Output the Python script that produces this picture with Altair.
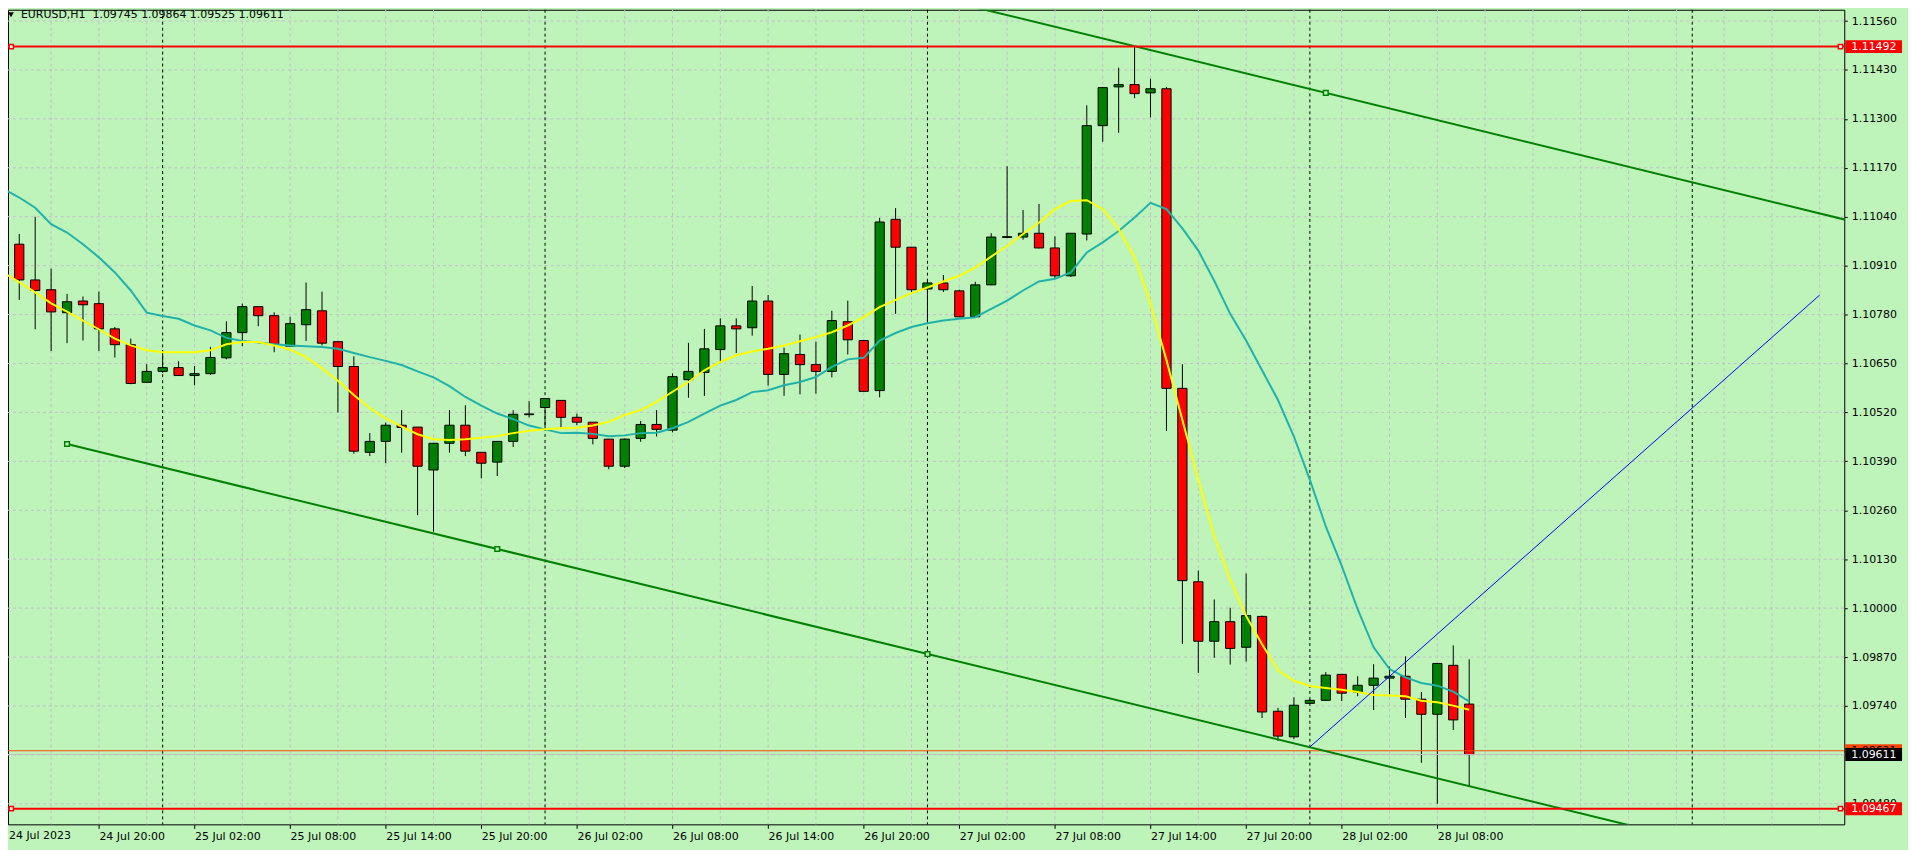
import altair as alt
import pandas as pd

# ---------------- data (EURUSD H1, bar 0 = 24 Jul 2023 14:00) ----------------
opens = [1.10912, 1.10967, 1.10872, 1.10846, 1.10785, 1.10816, 1.10809, 1.10742, 1.10700, 1.10600,
         1.10629, 1.10639, 1.10618, 1.10623, 1.10665, 1.10732, 1.10801, 1.10777, 1.10696, 1.10753,
         1.10790, 1.10708, 1.10642, 1.10414, 1.10443, 1.10486, 1.10481, 1.10367, 1.10438, 1.10486,
         1.10414, 1.10388, 1.10443, 1.10514, 1.10533, 1.10552, 1.10507, 1.10494, 1.10449, 1.10377,
         1.10451, 1.10488, 1.10473, 1.10607, 1.10626, 1.10687, 1.10750, 1.10745, 1.10816, 1.10621,
         1.10674, 1.10647, 1.10629, 1.10761, 1.10711, 1.10578, 1.11033, 1.10959, 1.10848, 1.10864,
         1.10843, 1.10774, 1.10859, 1.10985, 1.10986, 1.10996, 1.10957, 1.10883, 1.10994, 1.11282,
         1.11385, 1.11391, 1.11369, 1.11380, 1.10584, 1.10070, 1.09912, 1.09964, 1.09896, 1.09978,
         1.09726, 1.09658, 1.09747, 1.09755, 1.09824, 1.09777, 1.09795, 1.09814, 1.09819, 1.09758,
         1.09718, 1.09848, 1.09745]
highs = [1.11084, 1.10994, 1.11040, 1.10902, 1.10835, 1.10828, 1.10841, 1.10747, 1.10716, 1.10648,
         1.10685, 1.10656, 1.10643, 1.10694, 1.10762, 1.10809, 1.10801, 1.10786, 1.10774, 1.10865,
         1.10841, 1.10708, 1.10669, 1.10465, 1.10493, 1.10526, 1.10481, 1.10438, 1.10526, 1.10539,
         1.10414, 1.10443, 1.10526, 1.10550, 1.10557, 1.10552, 1.10517, 1.10494, 1.10449, 1.10451,
         1.10497, 1.10526, 1.10624, 1.10705, 1.10742, 1.10770, 1.10770, 1.10856, 1.10832, 1.10692,
         1.10727, 1.10708, 1.10790, 1.10817, 1.10711, 1.11037, 1.11063, 1.10959, 1.10870, 1.10885,
         1.10846, 1.10867, 1.10996, 1.11174, 1.11058, 1.11074, 1.10988, 1.10996, 1.11336, 1.11385,
         1.11436, 1.11492, 1.11407, 1.11385, 1.10648, 1.10100, 1.10023, 1.10001, 1.10092, 1.09980,
         1.09735, 1.09763, 1.09758, 1.09830, 1.09824, 1.09819, 1.09851, 1.09845, 1.09872, 1.09777,
         1.09853, 1.09901, 1.09864]
lows = [1.10870, 1.10819, 1.10741, 1.10683, 1.10704, 1.10711, 1.10683, 1.10666, 1.10595, 1.10598,
        1.10625, 1.10617, 1.10592, 1.10620, 1.10661, 1.10696, 1.10749, 1.10680, 1.10695, 1.10710,
        1.10698, 1.10520, 1.10410, 1.10404, 1.10385, 1.10413, 1.10247, 1.10203, 1.10413, 1.10404,
        1.10345, 1.10351, 1.10428, 1.10507, 1.10478, 1.10480, 1.10486, 1.10435, 1.10369, 1.10372,
        1.10442, 1.10456, 1.10467, 1.10559, 1.10564, 1.10654, 1.10678, 1.10724, 1.10591, 1.10564,
        1.10568, 1.10570, 1.10613, 1.10674, 1.10576, 1.10560, 1.10782, 1.10840, 1.10760, 1.10840,
        1.10773, 1.10771, 1.10858, 1.10984, 1.10979, 1.10956, 1.10877, 1.10880, 1.10977, 1.11239,
        1.11263, 1.11355, 1.11304, 1.10471, 1.09905, 1.09828, 1.09868, 1.09850, 1.09858, 1.09708,
        1.09647, 1.09652, 1.09745, 1.09754, 1.09753, 1.09766, 1.09729, 1.09771, 1.09708, 1.09589,
        1.09480, 1.09676, 1.09525]
closes = [1.10967, 1.10872, 1.10844, 1.10787, 1.10814, 1.10806, 1.10742, 1.10700, 1.10597, 1.10629,
          1.10639, 1.10618, 1.10623, 1.10666, 1.10732, 1.10801, 1.10777, 1.10701, 1.10756, 1.10793,
          1.10704, 1.10642, 1.10417, 1.10443, 1.10486, 1.10480, 1.10377, 1.10438, 1.10486, 1.10417,
          1.10385, 1.10443, 1.10515, 1.10516, 1.10557, 1.10507, 1.10494, 1.10451, 1.10377, 1.10449,
          1.10488, 1.10475, 1.10615, 1.10629, 1.10689, 1.10750, 1.10742, 1.10816, 1.10621, 1.10676,
          1.10647, 1.10629, 1.10764, 1.10713, 1.10576, 1.11026, 1.10959, 1.10846, 1.10864, 1.10846,
          1.10774, 1.10859, 1.10986, 1.10987, 1.10996, 1.10957, 1.10883, 1.10996, 1.11282, 1.11383,
          1.11391, 1.11367, 1.11380, 1.10584, 1.10073, 1.09912, 1.09964, 1.09893, 1.09980, 1.09724,
          1.09660, 1.09742, 1.09755, 1.09822, 1.09774, 1.09795, 1.09814, 1.09819, 1.09758, 1.09718,
          1.09853, 1.09703, 1.09611]
ma_fast = [1.10892, 1.10866, 1.10839, 1.10810, 1.10788, 1.10764, 1.10741, 1.10716, 1.10698, 1.10685,
           1.10680, 1.10680, 1.10680, 1.10685, 1.10701, 1.10707, 1.10707, 1.10698, 1.10687, 1.10667,
           1.10637, 1.10604, 1.10566, 1.10531, 1.10504, 1.10482, 1.10462, 1.10449, 1.10447, 1.10449,
           1.10453, 1.10457, 1.10465, 1.10471, 1.10475, 1.10478, 1.10479, 1.10485, 1.10495, 1.10513,
           1.10526, 1.10548, 1.10575, 1.10601, 1.10632, 1.10654, 1.10672, 1.10682, 1.10689, 1.10698,
           1.10709, 1.10720, 1.10733, 1.10751, 1.10773, 1.10800, 1.10819, 1.10837, 1.10852, 1.10868,
           1.10883, 1.10905, 1.10934, 1.10963, 1.10994, 1.11024, 1.11060, 1.11082, 1.11084, 1.11060,
           1.11007, 1.10932, 1.10809, 1.10659, 1.10500, 1.10341, 1.10191, 1.10076, 1.09979, 1.09904,
           1.09834, 1.09807, 1.09793, 1.09788, 1.09783, 1.09777, 1.09769, 1.09768, 1.09766, 1.09754,
           1.09750, 1.09741, 1.09730]
ma_slow = [1.11114, 1.11091, 1.11064, 1.11020, 1.10998, 1.10967, 1.10932, 1.10892, 1.10844, 1.10785,
           1.10776, 1.10769, 1.10751, 1.10738, 1.10718, 1.10710, 1.10706, 1.10701, 1.10698, 1.10696,
           1.10694, 1.10689, 1.10678, 1.10667, 1.10657, 1.10646, 1.10629, 1.10613, 1.10590, 1.10561,
           1.10538, 1.10517, 1.10502, 1.10485, 1.10475, 1.10465, 1.10466, 1.10463, 1.10457, 1.10459,
           1.10465, 1.10466, 1.10478, 1.10495, 1.10517, 1.10538, 1.10553, 1.10574, 1.10579, 1.10592,
           1.10601, 1.10614, 1.10641, 1.10661, 1.10665, 1.10711, 1.10731, 1.10747, 1.10757, 1.10764,
           1.10769, 1.10773, 1.10795, 1.10817, 1.10844, 1.10868, 1.10875, 1.10892, 1.10945, 1.10972,
           1.11002, 1.11038, 1.11077, 1.11060, 1.11009, 1.10950, 1.10870, 1.10782, 1.10711, 1.10632,
           1.10553, 1.10456, 1.10341, 1.10217, 1.10112, 1.09997, 1.09896, 1.09838, 1.09816, 1.09801,
           1.09794, 1.09778, 1.09752]

x_label_pos = [0, 6, 12, 18, 24, 30, 36, 42, 48, 54, 60, 66, 72, 78, 84, 90]
x_labels = ["24 Jul 2023", "24 Jul 20:00", "25 Jul 02:00", "25 Jul 08:00", "25 Jul 14:00",
            "25 Jul 20:00", "26 Jul 02:00", "26 Jul 08:00", "26 Jul 14:00", "26 Jul 20:00",
            "27 Jul 02:00", "27 Jul 08:00", "27 Jul 14:00", "27 Jul 20:00", "28 Jul 02:00",
            "28 Jul 08:00"]
y_ticks = [1.09480, 1.09610, 1.09740, 1.09870, 1.10000, 1.10130, 1.10260, 1.10390, 1.10520,
           1.10650, 1.10780, 1.10910, 1.11040, 1.11170, 1.11300, 1.11430, 1.11560]
grid_x = [3, 6, 9, 12, 15, 18, 21, 24, 27, 30, 33, 36, 39, 42, 45, 48, 51, 54, 57, 60, 63, 66,
          69, 72, 75, 78, 81, 84, 87, 90, 93, 96, 99, 102, 105, 108, 111, 114]
day_sep = [10, 34, 58, 82, 106]

chan_i = [4, 116, 4, 116]
chan_p = [1.12185, 1.11028, 1.10436, 1.09279]
chan_g = ["upper", "upper", "lower", "lower"]
chan_pts_i = [4, 31, 58, 83]
chan_pts_p = [1.10436, 1.10157, 1.09878, 1.11369]
blue_i = [82, 114]
blue_p = [1.09631, 1.10832]
red_levels = [1.11492, 1.09467]
ask_price = 1.09621
bid_price = closes[-1]
symbol = "EURUSD,H1"

# ---------------- layout / style ----------------
BG = "#BEF4BA"
GRID = "#C5BECC"
FONT = "DejaVu Sans"
FS = 11
W, H = 1844, 818
X0, X1 = 0.294, 115.54
Y0, Y1 = 1.094255, 1.115899
HALF = 6.5 * (Y1 - Y0) / H

xs = alt.Scale(domain=[X0, X1], nice=False, zero=False)
ys = alt.Scale(domain=[Y0, Y1], nice=False, zero=False)

label_expr = "[" + ",".join(f"'{s}'" for s in x_labels) + "][round(datum.value/6)]"
x_axis = alt.Axis(values=x_label_pos[1:], labelExpr=label_expr, orient="bottom", grid=False,
                  domain=False, ticks=True, tickSize=4, tickColor="black", labelColor="black",
                  labelFont=FONT, labelFontSize=FS, labelAlign="left", labelBaseline="top",
                  labelPadding=2, labelOverlap=False, labelFlush=False, title=None)
y_axis = alt.Axis(values=y_ticks, format=".5f", orient="right", grid=False, domain=False,
                  ticks=True, tickSize=3, tickColor="black", labelColor="black", labelFont=FONT,
                  labelFontSize=FS, labelAlign="left", labelBaseline="middle", labelPadding=4,
                  labelOverlap=False, labelFlush=False, title=None)


def X(f="i"):
    return alt.X(f"{f}:Q", scale=xs, axis=x_axis)


def Y(f="p"):
    return alt.Y(f"{f}:Q", scale=ys, axis=y_axis)


n = len(opens)
candles = pd.DataFrame({"i": list(range(n)), "o": opens, "h": highs, "l": lows, "c": closes})
candles["dir"] = ["up" if c >= o else "down" for o, c in zip(opens, closes)]
candles["xl"] = candles["i"] - 0.29
candles["xr"] = candles["i"] + 0.29
ma = pd.DataFrame({"i": list(range(n)), "fast": ma_fast, "slow": ma_slow})

grid_v = alt.Chart(pd.DataFrame({"i": grid_x})).mark_rule(
    color=GRID, strokeDash=[3, 3], strokeWidth=1).encode(x=X())
grid_h = alt.Chart(pd.DataFrame({"p": y_ticks})).mark_rule(
    color=GRID, strokeDash=[3, 3], strokeWidth=1).encode(y=Y())
seps = alt.Chart(pd.DataFrame({"i": day_sep})).mark_rule(
    color="black", strokeDash=[3, 3], strokeWidth=1).encode(x=X())

wicks = alt.Chart(candles).mark_rule(color="black", strokeWidth=1, clip=True).encode(
    x=X(), y=Y("l"), y2="h:Q")
bodies = alt.Chart(candles).mark_rect(stroke="black", strokeWidth=1, clip=True).encode(
    x=X("xl"), x2="xr:Q", y=Y("o"), y2="c:Q",
    fill=alt.Fill("dir:N", scale=alt.Scale(domain=["up", "down"], range=["#008000", "#FF0000"]),
                  legend=None))

slow_line = alt.Chart(ma).mark_line(color="#20B2AA", strokeWidth=2, clip=True).encode(
    x=X(), y=Y("slow"))
fast_line = alt.Chart(ma).mark_line(color="#FFFF00", strokeWidth=2, clip=True).encode(
    x=X(), y=Y("fast"))

chan = alt.Chart(pd.DataFrame({"i": chan_i, "p": chan_p, "g": chan_g})).mark_line(
    color="#008000", strokeWidth=2, clip=True).encode(x=X(), y=Y(), detail="g:N")
chan_pts = alt.Chart(pd.DataFrame({"i": chan_pts_i, "p": chan_pts_p})).mark_square(
    size=22, fill=BG, stroke="#008000", strokeWidth=1.5, opacity=1, clip=True).encode(x=X(), y=Y())
blue = alt.Chart(pd.DataFrame({"i": blue_i, "p": blue_p})).mark_line(
    color="#0000FF", strokeWidth=1, clip=True).encode(x=X(), y=Y())

bid_line = alt.Chart(pd.DataFrame({"p": [bid_price]})).mark_rule(
    color="#C0C0C0", strokeWidth=1).encode(y=Y())
ask_line = alt.Chart(pd.DataFrame({"p": [ask_price]})).mark_rule(
    color="#FF4500", strokeWidth=1).encode(y=Y())
red_lines = alt.Chart(pd.DataFrame({"p": red_levels})).mark_rule(
    color="#FF0000", strokeWidth=2).encode(y=Y())
red_sq = alt.Chart(pd.DataFrame({"p": red_levels * 2, "i": [0.5, 0.5, 115.3, 115.3]})).mark_square(
    size=18, fill="white", stroke="#FF0000", strokeWidth=1.5, opacity=1, clip=True).encode(x=X(), y=Y())


def tag(price, fill, tcolor):
    df = pd.DataFrame({"p": [price], "top": [price + HALF], "bot": [price - HALF],
                       "t": [f"{price:.5f}"]})
    box = alt.Chart(df).mark_rect(color=fill, clip=False).encode(
        x=alt.value(W + 1), x2=alt.value(W + 58), y=Y("top"), y2="bot:Q")
    txt = alt.Chart(df).mark_text(align="left", baseline="middle", font=FONT, fontSize=FS,
                                  color=tcolor, clip=False).encode(
        x=alt.value(W + 7), y=Y(), text="t:N")
    return [box, txt]


tags = (tag(ask_price, "#FF4500", "#000000") + tag(bid_price, "#000000", "#FFFFFF")
        + tag(red_levels[0], "#FF0000", "#FFFFFF") + tag(red_levels[1], "#FF0000", "#FFFFFF"))

first_label = alt.Chart(pd.DataFrame({"t": [x_labels[0]]})).mark_text(
    align="left", baseline="top", font=FONT, fontSize=FS, color="black", clip=False).encode(
    text="t:N", x=alt.value(1), y=alt.value(H + 6))

header_txt = (f"{symbol}\u00a0\u00a0{opens[-1]:.5f} {highs[-1]:.5f} "
              f"{lows[-1]:.5f} {closes[-1]:.5f}")
header = alt.Chart(pd.DataFrame({"t": [header_txt]})).mark_text(
    align="left", baseline="middle", font=FONT, fontSize=FS, color="black").encode(
    text="t:N", x=alt.value(13), y=alt.value(5))
tri = alt.Chart(pd.DataFrame({"t": ["menu"]})).mark_point(
    shape="triangle-down", filled=True, color="black", size=32, opacity=1).encode(
    x=alt.value(3), y=alt.value(5))

chart = alt.layer(
    grid_v, grid_h, seps, wicks, bodies, slow_line, fast_line,
    bid_line, ask_line, chan, chan_pts, blue, red_lines, red_sq,
    *tags, first_label, header, tri
).properties(
    width=W, height=H, background=BG,
    padding={"left": 0, "top": 0, "right": 64, "bottom": 24},
    autosize=alt.AutoSizeParams(type="none"),
).configure_view(fill=BG, stroke="black", strokeWidth=1)

chart.save("out.html", embed_options={"renderer": "svg", "actions": False})
